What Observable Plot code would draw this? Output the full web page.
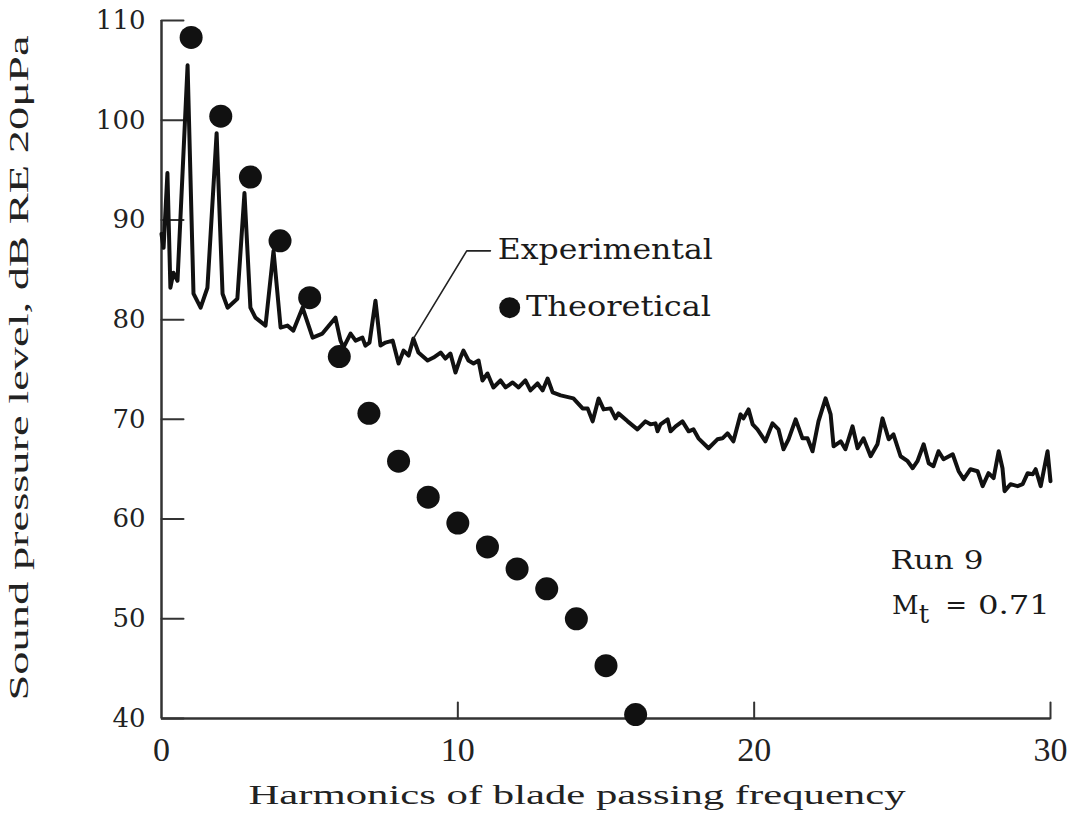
<!DOCTYPE html>
<html><head><meta charset="utf-8">
<script src="https://cdn.jsdelivr.net/npm/d3@7"></script>
<script src="https://cdn.jsdelivr.net/npm/@observablehq/plot@0.6"></script>
<style>body{margin:0;background:#fff}</style>
</head><body><div id="chart"></div>
<script>
// Experimental spectrum (harmonic number, SPL dB)
const harmonics = [0.00,0.07,0.20,0.30,0.40,0.54,0.88,1.08,1.32,1.55,1.86,2.06,2.23,2.56,2.80,3.00,3.17,3.51,3.78,4.02,4.25,4.45,4.76,5.10,5.43,5.87,6.04,6.14,6.38,6.55,6.78,6.88,7.02,7.22,7.39,7.56,7.80,8.00,8.17,8.34,8.50,8.67,8.98,9.18,9.42,9.58,9.75,9.92,10.09,10.19,10.36,10.53,10.70,10.83,11.00,11.20,11.44,11.61,11.85,12.05,12.28,12.45,12.69,12.86,13.03,13.20,13.47,13.90,14.21,14.38,14.55,14.75,14.92,15.15,15.32,15.42,15.73,16.06,16.33,16.50,16.67,16.74,16.84,17.08,17.18,17.35,17.58,17.79,17.95,18.12,18.46,18.76,18.93,19.10,19.30,19.54,19.64,19.81,19.95,20.11,20.38,20.62,20.82,20.99,21.16,21.40,21.63,21.80,21.97,22.17,22.41,22.58,22.68,22.92,23.08,23.32,23.49,23.69,23.93,24.16,24.33,24.54,24.70,24.94,25.18,25.35,25.51,25.72,25.89,26.05,26.22,26.39,26.70,26.90,27.07,27.30,27.54,27.71,27.91,28.08,28.25,28.38,28.45,28.65,28.89,29.06,29.23,29.40,29.50,29.67,29.90,30.00];
const spl = [88.6,87.2,94.7,83.2,84.7,83.9,105.5,82.6,81.2,83.2,98.7,82.6,81.2,82.1,92.7,81.2,80.2,79.4,86.9,79.2,79.4,78.9,81.2,78.2,78.6,80.2,77.9,77.2,78.6,77.9,78.2,77.4,77.7,81.9,77.4,77.7,77.9,75.6,76.9,76.4,78.1,76.7,75.9,76.2,76.7,76.1,76.6,74.7,76.2,76.9,75.9,75.6,75.9,73.9,74.6,73.2,73.9,73.2,73.7,73.2,73.9,72.9,73.6,72.9,74.1,72.7,72.4,72.1,71.1,71.1,69.8,72.1,71.0,71.1,70.1,70.6,69.8,69.0,69.8,69.5,69.6,68.8,69.5,70.0,68.8,69.3,69.8,68.8,69.0,68.1,67.1,68.0,68.1,68.6,67.8,70.5,70.1,71.0,69.5,69.0,67.8,69.6,69.0,67.0,68.0,70.0,68.1,68.1,66.8,69.8,72.1,70.5,67.3,67.8,67.0,69.3,67.1,68.1,66.3,67.5,70.1,68.0,68.5,66.3,65.8,65.1,65.8,67.5,65.6,65.3,66.8,66.0,66.5,64.8,64.0,65.0,64.8,63.3,64.6,64.1,66.8,65.1,62.8,63.5,63.3,63.5,64.6,64.5,65.0,63.3,66.8,63.8];

// Theoretical levels
const theoryHarmonic = [1,2,3,4,5,6,7,8,9,10,11,12,13,14,15,16];
const theorySPL = [108.3,100.4,94.3,87.9,82.2,76.3,70.6,65.8,62.2,59.6,57.2,55.0,53.0,50.0,45.3,40.4];

// Axes
const xTicks = [0,10,20,30];
const yTicks = [40,50,60,70,80,90,100,110];
const xTitle = "Harmonics of blade passing frequency";
const yTitle = "Sound pressure level, dB RE 20\u03bcPa";

// Annotations
const legendLabels = ["Experimental","Theoretical"];
const legendLabelX = [11.35, 12.3];
const legendLabelY = [86.9, 81.2];
const legendDotX = [11.75];
const legendDotY = [81.2];
const leaderX = [8.5, 10.3, 11.1];
const leaderY = [78.1, 86.9, 86.9];
const runText = ["Run 9","M","t","=","0.71"];
const runX = [24.6, 24.65, 25.55, 26.45, 27.55];
const runY = [55.8, 51.3, 51.3, 51.3, 51.3];

const expData = harmonics.map((h,i)=>({h, v: spl[i]}));
const theoryData = theoryHarmonic.map((h,i)=>({h, v: theorySPL[i]}));
const legendData = legendLabels.map((t,i)=>({t, x: legendLabelX[i], y: legendLabelY[i]}));
const leaderData = leaderX.map((x,i)=>({x, y: leaderY[i]}));
const runData = runText.map((t,i)=>({t, x: runX[i], y: runY[i]}));

const tickShape = {draw(ctx, l){ ctx.moveTo(0,0); ctx.lineTo(0,-l); }};
const ink = "#1a1a1a";

const chart = Plot.plot({
  width: 1073, height: 827,
  marginTop: 20, marginBottom: 109, marginLeft: 161, marginRight: 23,
  x: {domain: [0,30]},
  y: {domain: [40,110]},
  style: {background: "#fff", color: ink},
  marks: [
    Plot.ruleY([40], {stroke: "#333", strokeWidth: 2.5}),
    Plot.ruleX([0], {stroke: "#333", strokeWidth: 2.5}),
    Plot.vector(xTicks.slice(1), {x: d=>d, y: 40, length: 16, rotate: 0, anchor: "start", shape: tickShape, stroke: "#333", strokeWidth: 2}),
    Plot.vector(yTicks, {x: 0, y: d=>d, length: 22, rotate: 90, anchor: "start", shape: tickShape, stroke: "#333", strokeWidth: 2}),
    Plot.axisX(xTicks, {tickSize: 0, tickPadding: 18, label: null, fontSize: 34, fontFamily: "Liberation Serif", fill: "#222"}),
    Plot.axisY(yTicks, {tickSize: 0, tickPadding: 16, label: null, fontSize: 26, fontFamily: "DejaVu Serif", fill: "#222"}),
    Plot.text([xTitle], {frameAnchor: "bottom-left", dx: 87, dy: 85, textAnchor: "start", fontSize: 28, fontFamily: "Liberation Serif", fill: "#222"}),
    Plot.text([yTitle], {frameAnchor: "bottom-left", dx: -134, dy: -18, rotate: -90, textAnchor: "start", fontSize: 27, fontFamily: "Liberation Serif", fill: "#222"}),
    Plot.line(expData, {x: "h", y: "v", stroke: "#111", strokeWidth: 4, strokeLinejoin: "round"}),
    Plot.dot(theoryData, {x: "h", y: "v", r: 11.5, fill: "#111"}),
    Plot.line(leaderData, {x: "x", y: "y", stroke: "#222", strokeWidth: 1.6}),
    Plot.dot(legendDotX.map((x,i)=>({x, y: legendDotY[i]})), {x: "x", y: "y", r: 10.5, fill: "#111"}),
    Plot.text(legendData, {x: "x", y: "y", text: "t", textAnchor: "start", fontSize: 27, fontFamily: "DejaVu Serif", fill: "#1a1a1a"}),
    Plot.text(runData.filter(d=>d.t!=="t"), {x: "x", y: "y", text: "t", textAnchor: "start", fontSize: 26, fontFamily: "DejaVu Serif", fill: "#1a1a1a"}),
    Plot.text(runData.filter(d=>d.t==="t"), {x: "x", y: "y", text: "t", dy: 9, textAnchor: "start", fontSize: 26, fontFamily: "DejaVu Serif", fill: "#1a1a1a"})
  ]
});
document.getElementById("chart").append(chart);

// stretch texts to their original lengths
const lengths = {[xTitle]: 657, [yTitle]: 665, "Experimental": 215, "Theoretical": 185, "Run 9": 93, "0.71": 72};
d3.select(chart).selectAll("text").each(function(){
  const t = this.textContent;
  if (lengths[t]) { d3.select(this).attr("textLength", lengths[t]).attr("lengthAdjust", "spacingAndGlyphs"); }
});
</script>
</body></html>
